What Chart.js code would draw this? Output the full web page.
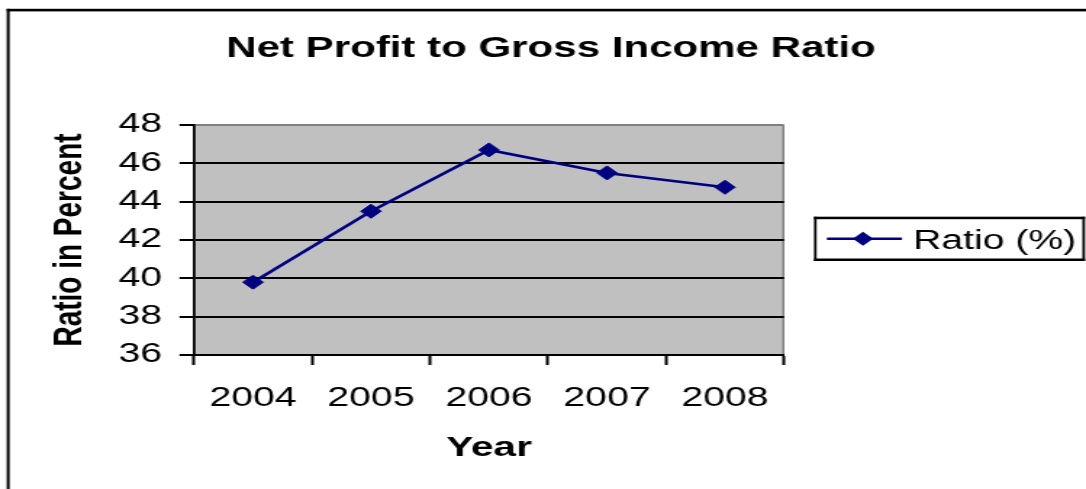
<!DOCTYPE html>
<html><head><meta charset="utf-8">
<script src="https://cdn.jsdelivr.net/npm/chart.js@4/dist/chart.umd.min.js"></script>
<style>html,body{margin:0;padding:0;background:#fff;overflow:hidden}
canvas{display:block}</style>
</head><body>
<canvas id="c" width="749" height="489" style="width:1086px;height:489px"></canvas>
<script>
const years = ['2004', '2005', '2006', '2007', '2008'];
const ratio = [39.8, 43.5, 46.7, 45.5, 44.75];
const yTicks = [36, 38, 40, 42, 44, 46, 48];
const seriesLabel = 'Ratio (%)';
const chartTitle = 'Net Profit to Gross Income Ratio';
const xTitle = 'Year';
const yTitle = 'Ratio in Percent';

const FONT = "'Liberation Sans', Arial, sans-serif";
const NAVY = '#000080';

const framePlugin = {
  id: 'frame',
  beforeDraw(chart) {
    const ctx = chart.ctx, a = chart.chartArea;
    ctx.save();
    ctx.fillStyle = '#fff';
    ctx.fillRect(0, 0, chart.width, chart.height);
    // outer chart border (left + top)
    ctx.fillStyle = '#000';
    ctx.fillRect(4.6, 8.8, 2, chart.height);
    ctx.fillRect(4.6, 8.8, chart.width, 2.6);
    // plot area
    ctx.fillStyle = '#C0C0C0';
    ctx.fillRect(a.left, a.top, a.right - a.left, a.bottom - a.top);
    ctx.fillStyle = '#808080';
    ctx.fillRect(a.right - 1.2, a.top, 1.5, a.bottom - a.top);
    ctx.restore();
  },
  afterDraw(chart) {
    const ctx = chart.ctx;
    const ds = chart.data.datasets[0];
    const x1 = 561.4, y1 = 216.7, x2 = 748.3, y2 = 261;
    ctx.save();
    ctx.fillStyle = '#000';
    ctx.fillRect(x1, y1, x2 - x1, 2.5);
    ctx.fillRect(x1, y2 - 2.5, x2 - x1, 2.5);
    ctx.fillRect(x1, y1, 1.8, y2 - y1);
    ctx.fillRect(x2 - 1.8, y1, 1.8, y2 - y1);
    const cy = (y1 + y2) / 2;
    ctx.strokeStyle = NAVY;
    ctx.lineWidth = 2.5;
    ctx.beginPath();
    ctx.moveTo(570.3, cy);
    ctx.lineTo(622.1, cy);
    ctx.stroke();
    const cx = 595.2, r = 7;
    ctx.fillStyle = NAVY;
    ctx.beginPath();
    ctx.moveTo(cx, cy - r); ctx.lineTo(cx + r, cy); ctx.lineTo(cx, cy + r); ctx.lineTo(cx - r, cy);
    ctx.closePath();
    ctx.fill();
    ctx.fillStyle = '#000';
    ctx.font = '27px ' + FONT;
    ctx.textBaseline = 'alphabetic';
    ctx.textAlign = 'left';
    ctx.fillText(ds.label, 629.7, 249);
    ctx.restore();
  }
};

Chart.defaults.color = '#000';
Chart.defaults.font.family = FONT;

new Chart(document.getElementById('c'), {
  type: 'line',
  data: {
    labels: years,
    datasets: [{
      label: seriesLabel,
      data: ratio,
      yAxisID: 'y',
      borderColor: NAVY,
      backgroundColor: NAVY,
      borderWidth: 2.6,
      pointStyle: 'rectRot',
      pointRadius: 7,
      pointBorderWidth: 1,
      pointBackgroundColor: NAVY,
      pointBorderColor: NAVY,
      tension: 0,
      fill: false
    }]
  },
  options: {
    responsive: false,
    animation: false,
    devicePixelRatio: 1,
    layout: { padding: { left: 11, right: 0, top: 0, bottom: 0 } },
    plugins: {
      legend: { display: false },
      tooltip: { enabled: false },
      title: {
        display: true,
        text: chartTitle,
        color: '#000',
        font: { size: 29, weight: 'bold', family: FONT },
        padding: { top: 32, bottom: 58.2 }
      }
    },
    scales: {
      x: {
        type: 'category',
        offset: true,
        grid: { offset: true, drawOnChartArea: false, drawTicks: true, tickLength: 10, tickColor: '#000', tickWidth: 2 },
        border: { display: true, color: '#000', width: 2 },
        ticks: { font: { size: 27, family: FONT }, padding: 17.8, color: '#000', maxRotation: 0 },
        title: { display: true, text: xTitle, font: { size: 28, weight: 'bold', family: FONT }, padding: { top: 0, bottom: 24.2 }, color: '#000' },
        afterFit(s) { s.height = 134; }
      },
      y: {
        type: 'linear',
        position: 'left',
        min: 36, max: 48,
        afterBuildTicks(s) { s.ticks = yTicks.map(v => ({ value: v })); },
        grid: {
          color: c => (c.tick && c.tick.value === 48) ? '#808080' : '#000',
          lineWidth: 2,
          tickColor: '#000',
          tickLength: 10,
          tickWidth: 2,
          drawTicks: true
        },
        border: { display: true, color: '#000', width: 1.8 },
        ticks: { font: { size: 27, family: FONT }, padding: 12, color: '#000' },
        title: { display: true, text: yTitle, font: { size: 28, weight: 'bold', family: FONT }, padding: { top: 20.5, bottom: 0 }, color: '#000' },
        afterFit(s) { s.width = 122.8; }
      },
      yR: {
        type: 'linear',
        position: 'right',
        display: true,
        min: 0, max: 1,
        grid: { display: false, drawTicks: false },
        border: { display: false },
        ticks: { display: false },
        afterFit(s) { s.width = 208.3; }
      }
    }
  },
  plugins: [framePlugin]
});
</script>
</body></html>
